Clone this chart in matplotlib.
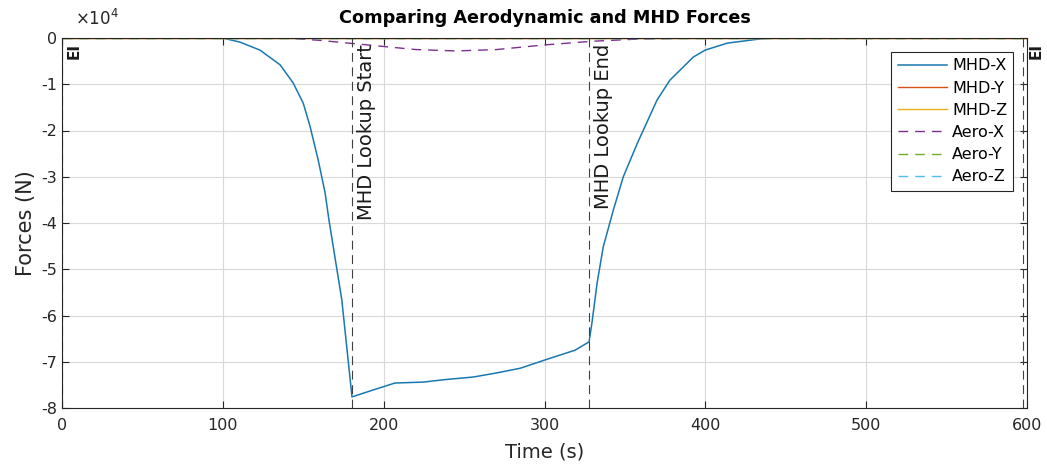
"""Comparing aerodynamic and MHD forces along the entry trajectory."""
import matplotlib
matplotlib.use("Agg")
from matplotlib import pyplot as plt
from matplotlib.ticker import FuncFormatter

plt.rcParams['font.family'] = ['DejaVu Sans']
plt.rcParams['axes.unicode_minus'] = False

# MHD force, x component (N)
mhd_x_time = [0, 100, 110.7, 123, 135.6, 143.7, 150, 154.3, 159.3, 163.6, 166,
              168.6, 174, 179, 180.3, 193.5, 207, 224.6, 237, 255.8, 270.5,
              285, 300.4, 319, 327.7, 329.5, 332.7, 336.5, 342.8, 349, 357.8,
              370, 378, 392.6, 400, 413.8, 434, 442, 600]
mhd_x_force = [0, 0, -900, -2600, -5800, -9700, -14100, -19200, -26400,
               -33500, -39400, -45000, -56700, -73300, -77600, -76100, -74600,
               -74400, -73900, -73300, -72400, -71400, -69600, -67500, -65700,
               -61600, -53000, -45200, -37200, -30000, -22700, -13400, -9100,
               -4100, -2600, -1100, -200, 0, 0]

# aerodynamic force, x component (N)
aero_x_time = [0, 140, 160, 190, 220, 245, 270, 300, 330, 360, 400, 600]
aero_x_force = [0, 0, -500, -1500, -2500, -2800, -2500, -1500, -700, -200, 0, 0]

# the remaining components stay at zero over the whole run
zero_time = [0, 600]
mhd_y_force = [0, 0]
mhd_z_force = [0, 0]
aero_y_force = [0, 0]
aero_z_force = [0, 0]

# event markers: time (s) and label
event_times = [0, 180.3, 327.7, 597.8]
event_labels = ['EI', 'MHD Lookup Start', 'MHD Lookup End', 'EI']

colors = ['#1878b0', '#D95319', '#EDB120', '#7E2F8E', '#77AC30', '#4DBEEE']

fig = plt.figure(figsize=(10.47, 4.74), dpi=100)
ax = fig.add_axes([62 / 1047, 1 - 408 / 474, 965 / 1047, 370 / 474])

ax.plot(mhd_x_time, mhd_x_force, color=colors[0], lw=1.1, label='MHD-X')
ax.plot(zero_time, mhd_y_force, color=colors[1], lw=1.0, label='MHD-Y')
ax.plot(zero_time, mhd_z_force, color=colors[2], lw=1.0, label='MHD-Z')
ax.plot(aero_x_time, aero_x_force, color=colors[3], lw=1.0, ls=(0, (7, 5)),
        label='Aero-X')
ax.plot(zero_time, aero_y_force, color=colors[4], lw=1.0, ls=(0, (7, 5)),
        label='Aero-Y')
ax.plot(zero_time, aero_z_force, color=colors[5], lw=1.0, ls=(0, (7, 5)),
        label='Aero-Z')

for t, lab in zip(event_times, event_labels):
    ax.axvline(t, color='0.25', lw=0.8, ls=(0, (8, 5)))
    if lab == 'EI':
        ax.text(t + 3, -1000, lab, rotation=90, ha='left', va='top',
                fontsize=11, fontweight='bold', color='0.1', clip_on=False)
    else:
        ax.text(t + 3, -1200, lab, rotation=90, ha='left', va='top',
                fontsize=14, color='0.1')

ax.set_xlim(0, 600)
ax.set_ylim(-80000, 0)
ax.set_xticks(range(0, 601, 100))
ax.set_yticks(range(-80000, 1, 10000))
ax.yaxis.set_major_formatter(FuncFormatter(lambda v, p: f'{v / 1e4:.0f}'))
ax.tick_params(direction='in', top=True, right=True, labelsize=11.5,
               colors='0.15', length=5, width=0.8)
ax.tick_params(axis='x', pad=7)
ax.grid(True, color='0.85', lw=0.8)
for s in ax.spines.values():
    s.set_color('0.15')
    s.set_linewidth(0.8)

ax.text(0.013, 1.025, r'$\times10^4$', transform=ax.transAxes, fontsize=12,
        color='0.15', ha='left', va='bottom')
ax.set_title('Comparing Aerodynamic and MHD Forces', fontsize=12.7,
             fontweight='bold', pad=11)
ax.set_xlabel('Time (s)', fontsize=14, color='0.15', labelpad=7)
ax.set_ylabel('Forces (N)', fontsize=15, color='0.15', labelpad=4)

leg = ax.legend(loc='upper right', bbox_to_anchor=(0.986, 0.962),
                fontsize=11.5, handlelength=3.1, handletextpad=0.3,
                labelspacing=0.45, borderpad=0.4, fancybox=False,
                framealpha=1, edgecolor='0.15', borderaxespad=0)
leg.get_frame().set_linewidth(0.8)

fig.savefig('out.png', dpi=100)
